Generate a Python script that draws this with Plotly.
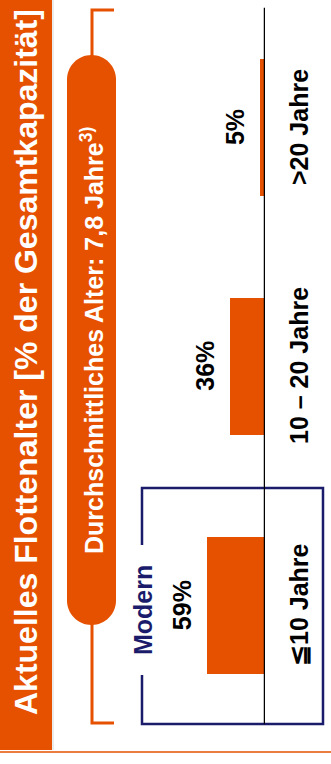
import plotly.graph_objects as go

# Fleet age distribution (% of total capacity)
categories = ["≦10 Jahre", "10 – 20 Jahre", ">20 Jahre"]
shares = [59, 36, 5]
share_labels = ["59%", "36%", "5%"]

title_text = "Aktuelles Flottenalter [% der Gesamtkapazität]"
avg_text = "Durchschnittliches Alter: 7,8 Jahre<sup>3)</sup>"
group_text = "Modern"

W, H = 331, 764
ORANGE = "#E65100"
NAVY = "#1B1B6B"
FONT = "Liberation Sans, Arial, sans-serif"


def px(x):
    return x / W


def py(y):
    return 1 - y / H


def path(points, close=False):
    parts = []
    for cmd, pts in points:
        coords = " ".join(f"{px(a):.5f},{py(b):.5f}" for a, b in pts)
        parts.append(f"{cmd}{coords}")
    return " ".join(parts) + (" Z" if close else "")


idx = list(range(len(categories)))

fig = go.Figure()
fig.add_trace(go.Bar(
    x=shares, y=idx, orientation="h",
    marker=dict(color=ORANGE, line=dict(width=0)),
    width=0.57, hoverinfo="skip",
))

shapes = []
# title band with thin shadow and footer rule
shapes.append(dict(type="rect", xref="paper", yref="paper", x0=px(0), x1=px(52),
                   y0=py(750), y1=py(0), fillcolor=ORANGE, line=dict(width=0), layer="below"))
shapes.append(dict(type="line", xref="paper", yref="paper", x0=px(53), x1=px(53),
                   y0=py(0), y1=py(750), line=dict(color="#D8D8D8", width=1)))
shapes.append(dict(type="line", xref="paper", yref="paper", x0=px(0), x1=px(331),
                   y0=py(752), y1=py(752), line=dict(color=ORANGE, width=1.5)))

# bracket around the average-age capsule
shapes.append(dict(type="path", xref="paper", yref="paper",
                   path=path([("M", [(114, 10)]), ("L", [(92, 10)]), ("L", [(92, 58)])]),
                   line=dict(color=ORANGE, width=3)))
shapes.append(dict(type="path", xref="paper", yref="paper",
                   path=path([("M", [(92, 622)]), ("L", [(92, 723)]), ("L", [(114, 723)])]),
                   line=dict(color=ORANGE, width=3)))

# capsule (rounded ends built from cubic curves)
xl, xr, yt, yb = 67, 116, 55, 625
r = (xr - xl) / 2
k = 0.5523 * r
xc = (xl + xr) / 2
capsule = path([
    ("M", [(xl, yt + r)]),
    ("C", [(xl, yt + r - k), (xc - k, yt), (xc, yt)]),
    ("C", [(xc + k, yt), (xr, yt + r - k), (xr, yt + r)]),
    ("L", [(xr, yb - r)]),
    ("C", [(xr, yb - r + k), (xc + k, yb), (xc, yb)]),
    ("C", [(xc - k, yb), (xl, yb - r + k), (xl, yb - r)]),
], close=True)
shapes.append(dict(type="path", xref="paper", yref="paper", path=capsule,
                   fillcolor=ORANGE, line=dict(width=0)))

# "Modern" frame around the youngest age group
shapes.append(dict(type="path", xref="paper", yref="paper",
                   path=path([("M", [(142, 545)]), ("L", [(142, 488)]), ("L", [(323, 488)]),
                              ("L", [(323, 724)]), ("L", [(142, 724)]), ("L", [(142, 675)])]),
                   line=dict(color=NAVY, width=2.5)))

# baseline of the bars
shapes.append(dict(type="line", xref="x", yref="y", x0=0, x1=0, y0=-0.5, y1=2.5,
                   line=dict(color="black", width=2.5)))

annotations = []
annotations.append(dict(text=title_text, xref="paper", yref="paper", x=px(26), y=py(362),
                        textangle=-90, showarrow=False, xanchor="center", yanchor="middle",
                        font=dict(family=FONT, size=32, color="white", weight="bold")))
annotations.append(dict(text=avg_text, xref="paper", yref="paper", x=px(92), y=py(341),
                        textangle=-90, showarrow=False, xanchor="center", yanchor="middle",
                        font=dict(family=FONT, size=25, color="white", weight="bold")))
annotations.append(dict(text=group_text, xref="paper", yref="paper", x=px(143), y=py(610),
                        textangle=-90, showarrow=False, xanchor="center", yanchor="middle",
                        font=dict(family=FONT, size=25, color=NAVY, weight="bold")))
for i, cat in enumerate(categories):
    annotations.append(dict(text=cat, xref="paper", yref="y", x=px(299), y=i,
                            textangle=-90, showarrow=False, xanchor="center", yanchor="middle",
                            font=dict(family=FONT, size=25, color="black", weight="bold")))
for i, (v, lab) in enumerate(zip(shares, share_labels)):
    annotations.append(dict(text=lab, xref="x", yref="y", x=v, y=i, xshift=-25,
                            textangle=-90, showarrow=False, xanchor="center", yanchor="middle",
                            font=dict(family=FONT, size=25, color="black", weight="bold")))

fig.update_layout(
    width=W, height=H, autosize=False,
    margin=dict(l=0, r=0, t=0, b=0, pad=0),
    paper_bgcolor="white", plot_bgcolor="rgba(0,0,0,0)",
    showlegend=False,
    xaxis=dict(range=[270.4, 0], domain=[0, 265 / W], visible=False, fixedrange=True),
    yaxis=dict(range=[-0.5, 2.5], domain=[1 - 724.5 / H, 1 - 7.5 / H], visible=False,
               fixedrange=True),
    shapes=shapes, annotations=annotations,
    bargap=0,
)

fig.write_html("out.html", config={"displayModeBar": False})
